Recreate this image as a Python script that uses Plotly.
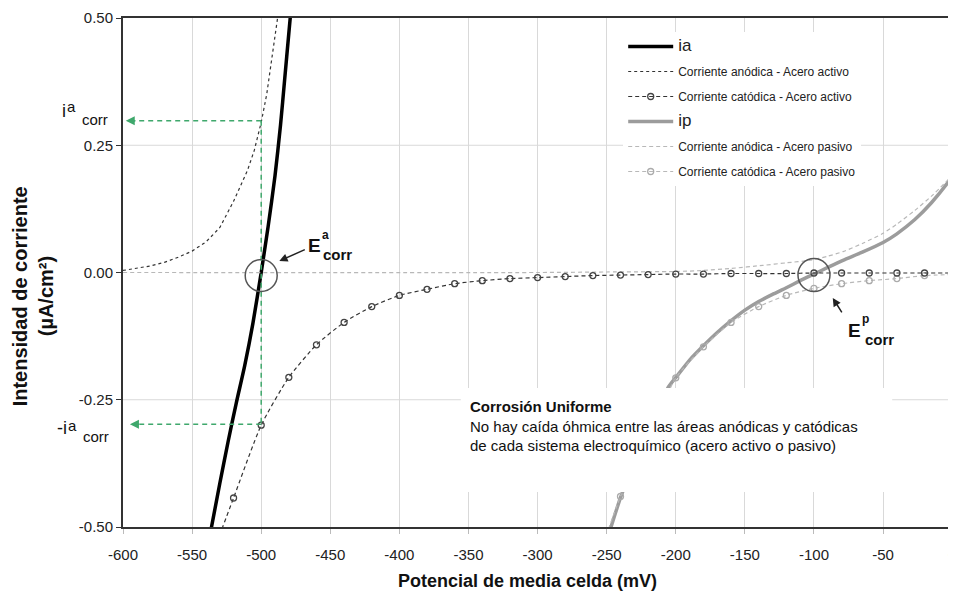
import plotly.graph_objects as go

# ---------------- data ----------------
# ia : total current, active steel
E_ia = [-537, -530, -524, -518, -512, -506, -500, -495, -490, -486, -483, -480, -478]
i_ia = [-0.515, -0.415, -0.333, -0.256, -0.184, -0.100, 0.0, 0.09, 0.19, 0.29, 0.38, 0.47, 0.53]

# Corriente anódica - Acero activo
E_aa = [-600, -590, -580, -570, -560, -550, -540, -530, -520, -515, -510, -505, -500, -496, -492, -488, -485]
i_aa = [0.004, 0.008, 0.013, 0.020, 0.030, 0.042, 0.060, 0.088, 0.140, 0.170, 0.200, 0.240, 0.295, 0.350, 0.425, 0.500, 0.560]

# Corriente catódica - Acero activo
E_ca = [-532, -520, -500, -480, -460, -440, -420, -400, -380, -360, -340, -320, -300, -280,
        -260, -240, -220, -200, -180, -160, -140, -120, -100, -80, -60, -40, -20, 0]
i_ca = [-0.530, -0.443, -0.300, -0.206, -0.142, -0.098, -0.067, -0.045, -0.033, -0.022, -0.016, -0.012, -0.010, -0.008,
        -0.006, -0.005, -0.004, -0.003, -0.003, -0.002, -0.002, -0.002, -0.001, -0.001, -0.001, -0.001, -0.001, -0.001]

# ip : total current, passive steel
E_ip = [-248, -239, -222, -206, -199, -190, -180, -170, -161, -150, -140, -130, -120, -110,
        -100, -90, -79, -65, -50, -40, -27, -15, -3, 2]
i_ip = [-0.51, -0.435, -0.33, -0.228, -0.203, -0.172, -0.144, -0.118, -0.097, -0.074, -0.057, -0.043, -0.030, -0.016,
        -0.003, 0.010, 0.024, 0.040, 0.059, 0.076, 0.104, 0.137, 0.177, 0.197]

# Corriente anódica - Acero pasivo
E_ap = [-600, -300, -250, -200, -180, -160, -137, -120, -103, -90, -79, -65, -50, -40, -27, -15, 0]
i_ap = [0.0, 0.0, 0.001, 0.002, 0.004, 0.008, 0.014, 0.019, 0.024, 0.032, 0.041, 0.057, 0.077, 0.095, 0.122, 0.150, 0.190]

# Corriente catódica - Acero pasivo
E_cp = [-252, -240, -220, -200, -180, -160, -140, -120, -100, -80, -60, -40, -20, 0]
i_cp = [-0.53, -0.44, -0.325, -0.207, -0.146, -0.098, -0.067, -0.045, -0.031, -0.022, -0.016, -0.012, -0.006, -0.004]

E_CORR_A, I_CORR_A = -500, 0.298
E_CORR_P = -100

x_ticks = [-600, -550, -500, -450, -400, -350, -300, -250, -200, -150, -100, -50, 0]
x_tick_text = ["-600", "-550", "-500", "-450", "-400", "-350", "-300", "-250", "-200", "-150", "-100", "-50", "0"]
y_ticks = [-0.50, -0.25, 0.0, 0.25, 0.50]
y_tick_text = ["-0.50", "-0.25", "0.00", "0.25", "0.50"]

# ---------------- layout helpers ----------------
OFF = 8                      # page body margin of the html page
W, H = 956 - OFF, 593 - OFF
ML, MR, MT, MB = 115, 0, 10, 66
PW, PH = W - ML - MR, H - MT - MB
FONT = "Liberation Sans, Arial, sans-serif"


def px(xp):   # page pixel -> paper x
    return (xp - OFF - ML) / PW


def py(yp):   # page pixel -> paper y
    return (OFF + H - MB - yp) / PH


fig = go.Figure()

SPL = dict(shape="spline", smoothing=0.6)
# drawing order: thick lines first, dashed on top
fig.add_trace(go.Scatter(x=E_ip, y=i_ip, mode="lines", name='<span style="font-size:17px">ip</span>',
                         line=dict(color="#9c9c9c", width=3.5, **SPL), legendrank=4, legendgroup="g4"))
fig.add_trace(go.Scatter(x=E_ia, y=i_ia, mode="lines", name='<span style="font-size:17px">ia</span>',
                         line=dict(color="#000000", width=3.5, **SPL), legendrank=1, legendgroup="g1"))
fig.add_trace(go.Scatter(x=E_ap, y=i_ap, mode="lines", name="Corriente anódica - Acero pasivo",
                         line=dict(color="#b8b8b8", width=1.2, dash="4px,3px", **SPL),
                         legendrank=5, legendgroup="g5"))
fig.add_trace(go.Scatter(x=E_cp, y=i_cp, mode="lines+markers", name="Corriente catódica - Acero pasivo",
                         line=dict(color="#b8b8b8", width=1.2, dash="4px,3px", **SPL),
                         marker=dict(symbol="circle-open", size=6, color="#ababab", line=dict(width=1.3)),
                         legendrank=6, legendgroup="g6"))
fig.add_trace(go.Scatter(x=E_aa, y=i_aa, mode="lines", name="Corriente anódica - Acero activo",
                         line=dict(color="#333333", width=1.2, dash="3px,3px"),
                         legendrank=2, legendgroup="g2"))
fig.add_trace(go.Scatter(x=E_ca, y=i_ca, mode="lines+markers", name="Corriente catódica - Acero activo",
                         line=dict(color="#333333", width=1.2, dash="4px,3px", **SPL),
                         marker=dict(symbol="circle-open", size=6, color="#444444", line=dict(width=1.3)),
                         legendrank=3, legendgroup="g3"))

GREEN = "#3fa86c"
shapes = [
    # horizontal grid lines (no solid one at zero)
    dict(type="line", xref="paper", x0=0, x1=1, yref="y", y0=0.25, y1=0.25,
         line=dict(color="#d9d9d9", width=1), layer="below"),
    dict(type="line", xref="paper", x0=0, x1=1, yref="y", y0=-0.25, y1=-0.25,
         line=dict(color="#d9d9d9", width=1), layer="below"),
    # green dashed guides
    dict(type="line", x0=E_CORR_A, x1=E_CORR_A, y0=I_CORR_A, y1=-I_CORR_A,
         line=dict(color=GREEN, width=1.5, dash="5px,4px")),
    dict(type="line", x0=E_CORR_A, x1=-592, y0=I_CORR_A, y1=I_CORR_A,
         line=dict(color=GREEN, width=1.5, dash="5px,4px")),
    dict(type="line", x0=E_CORR_A, x1=-588, y0=-I_CORR_A, y1=-I_CORR_A,
         line=dict(color=GREEN, width=1.5, dash="5px,4px")),
    # circles around corrosion potentials
    dict(type="circle", xsizemode="pixel", ysizemode="pixel", xanchor=E_CORR_A, yanchor=0,
         x0=-16, x1=16, y0=-19, y1=13, line=dict(color="#555555", width=1.5)),
    dict(type="circle", xsizemode="pixel", ysizemode="pixel", xanchor=E_CORR_P, yanchor=0,
         x0=-16, x1=16, y0=-19, y1=14, line=dict(color="#555555", width=1.5)),
    # white box behind the note
    dict(type="rect", xref="paper", yref="paper", x0=px(462), x1=px(895), y0=py(492), y1=py(388),
         fillcolor="white", line=dict(width=0), layer="above"),
]

ann = []
# green arrow heads
ann.append(dict(x=-598, y=I_CORR_A, ax=-590, ay=I_CORR_A, axref="x", ayref="y", showarrow=True,
                arrowhead=2, arrowsize=1.2, arrowwidth=1.5, arrowcolor=GREEN, text=""))
ann.append(dict(x=-595, y=-I_CORR_A, ax=-587, ay=-I_CORR_A, axref="x", ayref="y", showarrow=True,
                arrowhead=2, arrowsize=1.2, arrowwidth=1.5, arrowcolor=GREEN, text=""))


def txt(x, y, text, size, xanchor="center", angle=0, color="#111111", family=FONT):
    ann.append(dict(xref="paper", yref="paper", x=px(x), y=py(y), text=text, showarrow=False,
                    xanchor=xanchor, yanchor="middle", textangle=angle, borderpad=0,
                    font=dict(family=family, size=size, color=color)))


# j corr labels on the y axis
txt(67, 111, "i", 18, "right")
txt(66, 107, "a", 15, "left")
txt(81, 119, "corr", 15, "left")
txt(68, 428, "-i", 18, "right")
txt(67, 425, "a", 15, "left")
txt(82, 437, "corr", 15, "left")

# E corr labels + arrows
ann.append(dict(x=-486.9, y=0.0226, ax=27, ay=-12, showarrow=True, arrowhead=2, arrowsize=1.1,
                arrowwidth=1.5, arrowcolor="#222222", text=""))
txt(315, 245, "<b>E</b>", 19)
txt(322, 235, "<b>a</b>", 12, "left")
txt(323, 254, "<b>corr</b>", 15, "left")
ann.append(dict(x=-86.4, y=-0.050, ax=10, ay=16, showarrow=True, arrowhead=2, arrowsize=1.1,
                arrowwidth=1.5, arrowcolor="#222222", text=""))
txt(857, 330, "<b>E</b>", 19)
txt(864, 319, "<b>p</b>", 12, "left")
txt(867, 339, "<b>corr</b>", 15, "left")

# note
ann.append(dict(xref="paper", yref="paper", x=px(470), y=py(397), xanchor="left", yanchor="top",
                align="left", showarrow=False, borderpad=0,
                text="<b>Corrosión Uniforme</b><br>No hay caída óhmica entre las áreas anódicas y catódicas"
                     "<br>de cada sistema electroquímico (acero activo o pasivo)",
                font=dict(family=FONT, size=15, color="#111111")))

# axis titles
txt(529, 581, "<b>Potencial de media celda (mV)</b>", 18)
txt(20, 296, "<b>Intensidad de corriente</b>", 20, angle=-90)
txt(46, 296, "<b>(µA/cm²)</b>", 20, angle=-90)

fig.update_layout(
    width=W, height=H, autosize=False,
    margin=dict(l=ML, r=MR, t=MT, b=MB),
    paper_bgcolor="white", plot_bgcolor="white",
    font=dict(family=FONT, color="#222222"),
    shapes=shapes, annotations=ann,
    showlegend=True,
    legend=dict(x=px(625), y=py(32), xanchor="left", yanchor="top", bgcolor="white",
                font=dict(family=FONT, size=12, color="#222222"), tracegroupgap=6,
                itemwidth=45, traceorder="grouped"),
    xaxis=dict(range=[-600, 0.6], tickvals=x_ticks, ticktext=x_tick_text, showgrid=True,
               gridcolor="#d9d9d9", gridwidth=1,
               zeroline=False, showline=True, linecolor="#333333", linewidth=2, mirror=True,
               ticks="outside", ticklen=5, tickcolor="#bbbbbb", ticklabelstandoff=8,
               ticklabeloverflow="allow",
               tickfont=dict(family=FONT, size=15, color="#222222")),
    yaxis=dict(range=[-0.5, 0.5], tickvals=y_ticks, ticktext=y_tick_text, showgrid=False,
               zeroline=False, showline=True, linecolor="#333333", linewidth=2,
               ticks="outside", ticklen=5, tickcolor="#333333",
               tickfont=dict(family=FONT, size=15, color="#222222")),
)

fig.write_html("out.html")
